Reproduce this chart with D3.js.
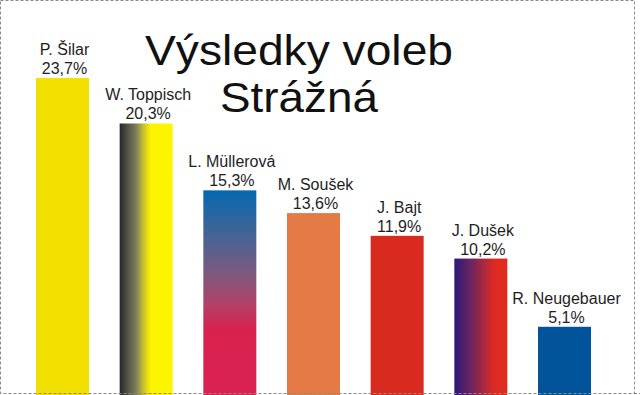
<!DOCTYPE html>
<html>
<head>
<meta charset="utf-8">
<script src="https://cdn.jsdelivr.net/npm/d3@7"></script>
<style>
html,body{margin:0;padding:0;background:#fff;}
svg{display:block;}
text{font-family:"Liberation Sans",Arial,sans-serif;}
</style>
</head>
<body>
<svg id="chart" width="640" height="395"></svg>
<script>
const candidates = ["P. Šilar","W. Toppisch","L. Müllerová","M. Soušek","J. Bajt","J. Dušek","R. Neugebauer"];
const shares = [23.7, 20.3, 15.3, 13.6, 11.9, 10.2, 5.1];
const titleLines = ["Výsledky voleb","Strážná"];

const svg = d3.select("#chart");
const defs = svg.append("defs");

function linGrad(id, horizontal, stops){
  const g = defs.append("linearGradient").attr("id", id)
    .attr("x1","0").attr("y1","0")
    .attr("x2", horizontal ? "1" : "0").attr("y2", horizontal ? "0" : "1");
  stops.forEach(s => g.append("stop").attr("offset", s[0]).attr("stop-color", s[1]));
  return "url(#" + id + ")";
}
const fills = [
  "#f1e000",
  linGrad("g2", true, [["0%","#262626"],["12%","#4a4a40"],["30%","#7a7a5a"],["45%","#c8c030"],["58%","#fbf300"],["100%","#fff500"]]),
  linGrad("g3", false, [["0%","#0668b0"],["20%","#3f6498"],["40%","#7a5a80"],["55%","#b04268"],["68%","#d8224e"],["100%","#da2250"]]),
  "#e47b46",
  "#d92a1f",
  linGrad("g6", true, [["0%","#2c1878"],["30%","#6a2462"],["55%","#a8283e"],["75%","#de2a22"],["100%","#e02a20"]]),
  "#02549a"
];

const x = d3.scaleBand().domain(candidates).range([36, 591]).paddingInner(0.3666).paddingOuter(0);
const y = d3.scaleLinear().domain([0, 23.7]).range([395, 78]);
const fmt = v => d3.format(".1f")(v).replace(".", ",") + "%";

const data = candidates.map((c,i) => ({name:c, v:shares[i], fill:fills[i]}));

svg.append("g").selectAll("rect").data(data).join("rect")
  .attr("x", d => x(d.name))
  .attr("y", d => y(d.v))
  .attr("width", x.bandwidth())
  .attr("height", d => y(0) - y(d.v))
  .attr("fill", d => d.fill);

const lbl = svg.append("g").attr("fill","#1e1e1e").attr("font-size", 16).attr("text-anchor","middle");
lbl.selectAll("text.name").data(data).join("text").attr("class","name")
  .attr("x", d => x(d.name) + x.bandwidth()/2 + 2)
  .attr("y", d => y(d.v) - 23)
  .text(d => d.name);
lbl.selectAll("text.pct").data(data).join("text").attr("class","pct")
  .attr("x", d => x(d.name) + x.bandwidth()/2 + 2)
  .attr("y", d => y(d.v) - 4)
  .text(d => fmt(d.v));

const tWidths = [308, 158];
const tY = [64.5, 112];
svg.append("g").selectAll("text").data(titleLines).join("text")
  .attr("x", 299).attr("y", (d,i) => tY[i])
  .attr("text-anchor","middle")
  .attr("font-size", 42)
  .attr("fill","#111")
  .attr("textLength", (d,i) => tWidths[i])
  .attr("lengthAdjust","spacingAndGlyphs")
  .text(d => d);

svg.append("rect").attr("x",0.5).attr("y",0.5).attr("width",634).attr("height",393)
  .attr("fill","none").attr("stroke","#8a8a8a").attr("stroke-width",1).attr("stroke-dasharray","3,2");
svg.append("line").attr("x1",634).attr("x2",640).attr("y1",393.5).attr("y2",393.5)
  .attr("stroke","#8a8a8a").attr("stroke-dasharray","3,2");
</script>
</body>
</html>
